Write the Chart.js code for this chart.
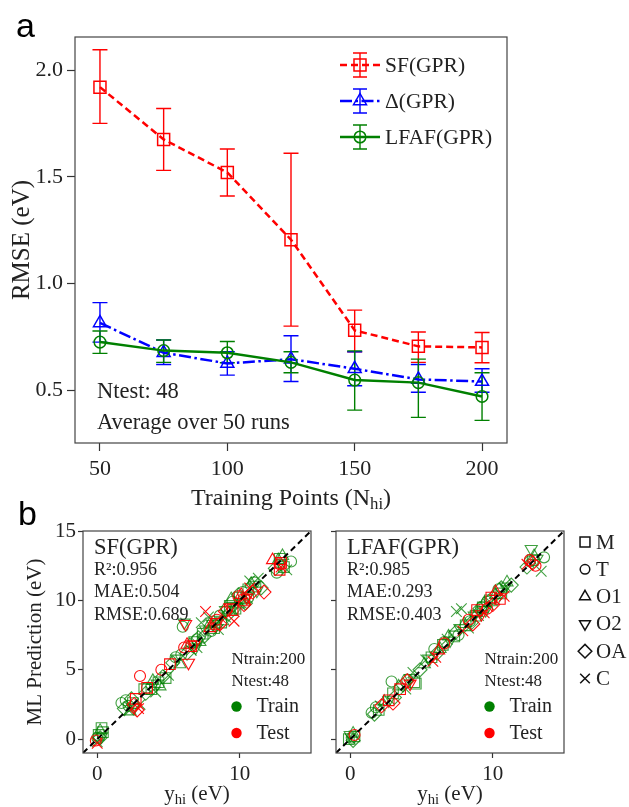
<!DOCTYPE html>
<html>
<head>
<meta charset="utf-8">
<script src="https://cdn.jsdelivr.net/npm/chart.js@4.4.1/dist/chart.umd.min.js"></script>
<style>
  body { margin: 0; background: #fff; }
  #wrap { position: relative; width: 629px; height: 807px; overflow: hidden; background: #fff; }
  canvas { position: absolute; }
  .panel { position: absolute; font-family: "Liberation Sans", Arial, sans-serif; font-size: 34px; line-height: 1; color: #000; }
</style>
</head>
<body>
<div id="wrap">
  <canvas id="rmseChart" width="629" height="515" style="left:0px;top:0px"></canvas>
  <canvas id="sfChart" width="320" height="302" style="left:0px;top:505px"></canvas>
  <canvas id="lfafChart" width="376" height="302" style="left:253px;top:505px"></canvas>
  <div class="panel" style="left:16px;top:8px">a</div>
  <div class="panel" style="left:18px;top:496px">b</div>
</div>
<script>
// ---- panel a : RMSE vs number of high fidelity training points
const nhi = [50, 75, 100, 125, 150, 175, 200];
const sfRmse = [1.92, 1.675, 1.52, 1.205, 0.78, 0.705, 0.70];
const sfHigh = [2.095, 1.82, 1.63, 1.61, 0.875, 0.772, 0.77];
const sfLow = [1.75, 1.53, 1.41, 0.80, 0.68, 0.63, 0.628];
const deltaRmse = [0.815, 0.675, 0.625, 0.645, 0.60, 0.55, 0.54];
const deltaHigh = [0.91, 0.735, 0.68, 0.755, 0.68, 0.62, 0.60];
const deltaLow = [0.725, 0.62, 0.57, 0.54, 0.52, 0.49, 0.49];
const lfafRmse = [0.725, 0.685, 0.675, 0.63, 0.547, 0.535, 0.47];
const lfafHigh = [0.777, 0.735, 0.728, 0.68, 0.684, 0.645, 0.581];
const lfafLow = [0.672, 0.63, 0.628, 0.581, 0.406, 0.372, 0.358];
const xTicksA = [50, 100, 150, 200];
const yTicksA = [0.5, 1.0, 1.5, 2.0];

// ---- panel b : parity plots (y_hi, prediction)
const sfTrainM = [[0.1,0.3],[0.3,0.8],[0.4,0.5],[2.5,2.6],[3.3,3.6],[3.8,3.6],[4.3,4.1],[4.8,4.4],[6.8,7.0],[7.4,7.6],[8.2,8.0],[8.7,8.4],[9.3,9.6],[9.7,9.4],[10.0,10.2],[10.6,10.8],[11.1,11.0],[12.8,13.0],[13.1,12.4]];
const sfTrainT = [[0.0,0.1],[1.7,2.6],[2.0,2.8],[2.2,2.4],[3.5,3.7],[5.5,5.9],[5.9,6.1],[6.0,8.1],[7.0,7.2],[8.0,7.8],[8.6,8.9],[9.1,9.4],[9.5,9.9],[10.2,10.6],[10.6,10.2],[11.0,11.3],[13.6,12.8],[12.6,12.0]];
const sfTrainO1 = [[0.2,0.6],[2.3,2.0],[3.9,4.2],[4.4,3.8],[5.8,5.4],[6.5,6.8],[7.2,7.0],[7.9,8.3],[8.8,8.5],[9.4,10.1],[9.9,9.7],[10.3,10.0],[10.8,11.2],[12.7,12.9],[13.0,13.2]];
const sfTrainO2 = [[0.3,0.2],[2.6,2.3],[4.2,4.0],[5.6,5.8],[6.1,8.4],[6.9,6.6],[7.6,7.9],[8.1,8.3],[8.4,8.6],[9.0,9.3],[9.8,9.5],[10.5,10.3],[11.2,10.7],[12.9,12.6]];
const sfTrainOA = [[0.2,0.1],[1.9,2.2],[2.4,2.9],[3.4,3.3],[4.6,4.5],[5.3,5.5],[6.3,6.2],[7.1,7.3],[7.5,7.4],[8.3,8.2],[9.2,9.0],[9.9,10.4],[10.4,9.8],[11.5,10.9],[12.5,12.3]];
const sfTrainC = [[0.0,-0.2],[2.2,2.1],[3.0,2.5],[4.1,3.4],[5.0,4.6],[6.6,6.4],[7.0,6.6],[7.3,8.4],[7.8,8.8],[8.5,7.9],[9.0,8.8],[9.6,9.2],[10.1,9.8],[10.7,11.4],[11.3,11.6],[13.3,12.2]];
const sfTestM = [[2.7,2.9],[3.5,3.7],[5.1,5.4],[6.6,6.7],[8.3,8.3],[9.5,9.3],[10.3,10.0],[12.8,12.2],[12.9,12.7]];
const sfTestT = [[-0.1,-0.1],[3.0,4.55],[4.5,5.0],[6.1,6.6],[8.4,8.6],[9.9,10.3],[12.8,12.6]];
const sfTestO1 = [[6.3,6.8],[7.9,8.0],[10.1,10.4],[12.3,12.9]];
const sfTestO2 = [[6.2,8.3],[6.4,5.5],[6.8,6.8],[9.3,9.5],[10.5,10.2]];
const sfTestOA = [[2.6,2.5],[2.8,2.1],[9.0,9.2],[10.3,9.7],[10.9,10.6],[11.7,10.6],[8.6,8.3]];
const sfTestC = [[0.0,-0.3],[2.9,2.2],[7.6,9.2],[9.6,8.5],[10.7,10.9],[12.9,12.4]];

const lfafTrainM = [[-0.1,0.0],[0.3,0.2],[2.0,2.1],[3.0,3.3],[4.5,4.1],[4.6,4.0],[5.7,5.9],[6.5,6.8],[7.3,7.4],[8.1,8.2],[8.8,8.9],[9.3,9.5],[9.8,10.0],[10.6,10.5],[12.8,12.9]];
const lfafTrainT = [[0.1,0.1],[1.5,1.9],[1.8,2.3],[2.9,4.15],[4.0,4.3],[5.9,6.5],[6.6,7.0],[7.6,7.5],[8.4,8.5],[9.2,9.5],[9.6,9.9],[10.4,10.8],[12.6,12.8],[13.6,13.1]];
const lfafTrainO1 = [[0.2,0.4],[2.4,2.7],[3.4,3.8],[5.2,5.4],[6.3,6.5],[6.9,7.4],[8.0,8.3],[8.9,9.1],[9.4,9.8],[10.2,10.4],[11.0,11.3],[12.9,13.2]];
const lfafTrainO2 = [[0.0,0.3],[2.7,2.8],[4.2,4.4],[5.5,5.8],[7.0,7.1],[7.7,8.0],[8.7,8.9],[9.5,9.3],[10.3,10.1],[10.9,11.0],[12.7,13.7],[13.1,13.0]];
const lfafTrainOA = [[0.2,-0.1],[1.7,1.8],[3.1,3.0],[3.7,3.9],[4.9,5.0],[6.1,6.2],[7.4,7.7],[8.5,8.4],[9.1,9.4],[10.0,10.2],[10.6,10.9],[11.3,11.1],[12.4,12.4]];
const lfafTrainC = [[0.0,0.0],[2.1,2.4],[3.9,3.6],[4.4,4.8],[5.3,5.7],[6.8,7.2],[7.45,9.2],[7.8,9.4],[8.3,8.0],[9.0,8.9],[9.7,9.7],[10.8,10.9],[13.4,12.1]];
const lfafTestM = [[2.7,2.8],[3.5,3.6],[8.9,9.3],[9.9,10.2],[10.5,10.1]];
const lfafTestT = [[0.3,0.3],[6.6,6.9],[8.3,8.6],[9.6,9.4],[12.6,12.9],[13.0,12.5]];
const lfafTestO1 = [[6.2,6.4],[10.2,10.6]];
const lfafTestO2 = [[4.2,4.0],[9.2,9.0]];
const lfafTestOA = [[2.2,2.4],[3.0,2.6],[4.0,4.2],[8.6,8.3],[10.0,9.7],[12.8,12.7]];
const lfafTestC = [[5.8,5.6],[6.0,5.9],[7.9,7.8],[9.4,9.1],[10.8,10.3],[12.4,12.6]];

const diagX = [-1, 15];
const diagY = [-1, 15];
const xTicksB = [0, 10];
const yTicksB = [0, 5, 10, 15];
const sfStats = ['0.956', '0.504', '0.689'];
const lfafStats = ['0.985', '0.293', '0.403'];
const nTrain = 200;
const nTest = 48;
const shapeKeys = ['M', 'T', 'O1', 'O2', 'OA', 'C'];

const SERIF = "'Liberation Serif', 'Times New Roman', serif";
Chart.defaults.font.family = SERIF;
Chart.defaults.color = '#222';
Chart.defaults.animation = false;

const shapeStyle = {
  M:  { pointStyle: 'rect', radius: 7.5, rotation: 0 },
  T:  { pointStyle: 'circle', radius: 5.5, rotation: 0 },
  O1: { pointStyle: 'triangle', radius: 7, rotation: 0 },
  O2: { pointStyle: 'triangle', radius: 7, rotation: 180 },
  OA: { pointStyle: 'rectRot', radius: 7, rotation: 0 },
  C:  { pointStyle: 'crossRot', radius: 7.5, rotation: 0 }
};

// draw the plot frame on all four sides like matplotlib spines
const frame = {
  id: 'frame',
  afterDatasetsDraw(chart) {
    const { ctx, chartArea: a } = chart;
    ctx.save();
    ctx.strokeStyle = '#444';
    ctx.lineWidth = 1.2;
    ctx.strokeRect(a.left, a.top, a.right - a.left, a.bottom - a.top);
    ctx.restore();
  }
};

// text with a subscript part, centred on cx
function drawSubText(ctx, parts, cx, cy, size) {
  ctx.save();
  ctx.fillStyle = '#222';
  ctx.textBaseline = 'alphabetic';
  let w = 0;
  parts.forEach(p => {
    ctx.font = (p.sub ? size * 0.7 : size) + 'px ' + SERIF;
    w += ctx.measureText(p.t).width;
  });
  let x = cx - w / 2;
  const base = cy + size * 0.33;
  parts.forEach(p => {
    ctx.font = (p.sub ? size * 0.7 : size) + 'px ' + SERIF;
    ctx.fillText(p.t, x, p.sub ? base + size * 0.18 : base);
    x += ctx.measureText(p.t).width;
  });
  ctx.restore();
}

const errorBars = {
  id: 'errorBars',
  beforeDatasetsDraw(chart) {
    const { ctx, scales: { x, y } } = chart;
    chart.data.datasets.forEach(ds => {
      ctx.save();
      ctx.strokeStyle = ds.borderColor;
      ctx.lineWidth = 1.4;
      ds.data.forEach((p, i) => {
        const px = x.getPixelForValue(p.x);
        const top = y.getPixelForValue(ds.errHigh[i]);
        const bot = y.getPixelForValue(ds.errLow[i]);
        ctx.beginPath();
        ctx.moveTo(px, top); ctx.lineTo(px, bot);
        ctx.moveTo(px - 7.5, top); ctx.lineTo(px + 7.5, top);
        ctx.moveTo(px - 7.5, bot); ctx.lineTo(px + 7.5, bot);
        ctx.stroke();
      });
      ctx.restore();
    });
  }
};

function drawMarker(ctx, style, x, y, r) {
  ctx.beginPath();
  if (style === 'rect') {
    const h = r * Math.SQRT1_2;
    ctx.rect(x - h, y - h, 2 * h, 2 * h);
  } else if (style === 'circle') {
    ctx.arc(x, y, r, 0, Math.PI * 2);
  } else if (style === 'triangle') {
    ctx.moveTo(x, y - r);
    ctx.lineTo(x + r * 0.866, y + r * 0.5);
    ctx.lineTo(x - r * 0.866, y + r * 0.5);
    ctx.closePath();
  } else if (style === 'triangleDown') {
    ctx.moveTo(x, y + r);
    ctx.lineTo(x + r * 0.866, y - r * 0.5);
    ctx.lineTo(x - r * 0.866, y - r * 0.5);
    ctx.closePath();
  } else if (style === 'rectRot') {
    ctx.moveTo(x, y - r); ctx.lineTo(x + r, y); ctx.lineTo(x, y + r); ctx.lineTo(x - r, y);
    ctx.closePath();
  } else if (style === 'crossRot') {
    const h = r * Math.SQRT1_2;
    ctx.moveTo(x - h, y - h); ctx.lineTo(x + h, y + h);
    ctx.moveTo(x + h, y - h); ctx.lineTo(x - h, y + h);
  }
  ctx.stroke();
}

const rmseLegend = {
  id: 'rmseLegend',
  afterDraw(chart) {
    const { ctx } = chart;
    const rows = [65, 101, 137];
    chart.data.datasets.forEach((ds, i) => {
      const y = rows[i];
      ctx.save();
      ctx.strokeStyle = ds.borderColor;
      ctx.lineWidth = 2.5;
      ctx.setLineDash(ds.borderDash || []);
      ctx.beginPath(); ctx.moveTo(340, y); ctx.lineTo(380, y); ctx.stroke();
      ctx.setLineDash([]);
      ctx.lineWidth = 1.4;
      ctx.beginPath();
      ctx.moveTo(360, y - 12); ctx.lineTo(360, y + 12);
      ctx.moveTo(353, y - 12); ctx.lineTo(367, y - 12);
      ctx.moveTo(353, y + 12); ctx.lineTo(367, y + 12);
      ctx.stroke();
      ctx.lineWidth = 1.5;
      drawMarker(ctx, ds.pointStyle, 360, y, ds.pointRadius);
      ctx.fillStyle = '#222';
      ctx.font = '21.5px ' + SERIF;
      ctx.textBaseline = 'middle';
      ctx.fillText(ds.label, 385, y + 1);
      ctx.restore();
    });
    ctx.save();
    ctx.fillStyle = '#222';
    ctx.font = '22.5px ' + SERIF;
    ctx.textBaseline = 'middle';
    ctx.fillText('Ntest: ' + nTest, 97, 392);
    ctx.fillText('Average over 50 runs', 97, 423);
    ctx.restore();
    drawSubText(ctx, [{ t: 'Training Points (N' }, { t: 'hi', sub: true }, { t: ')' }], 291, 497, 24);
  }
};

function rmseSeries(label, color, dash, style, radius, ys, lo, hi, order) {
  return {
    label, order,
    data: nhi.map((x, i) => ({ x, y: ys[i] })),
    errLow: lo, errHigh: hi,
    borderColor: color, borderWidth: 2.5, borderDash: dash,
    pointStyle: style, pointRadius: radius, pointBorderWidth: 1.5,
    pointBorderColor: color, pointBackgroundColor: 'rgba(0,0,0,0)',
    backgroundColor: 'rgba(0,0,0,0)', tension: 0, fill: false
  };
}

new Chart(document.getElementById('rmseChart').getContext('2d'), {
  type: 'line',
  data: {
    datasets: [
      rmseSeries('SF(GPR)', '#ff0000', [7, 4], 'rect', 8.5, sfRmse, sfLow, sfHigh, 3),
      rmseSeries('\u0394(GPR)', '#0000ff', [12, 3.5, 2.5, 3.5], 'triangle', 7.5, deltaRmse, deltaLow, deltaHigh, 2),
      rmseSeries('LFAF(GPR)', '#008000', [], 'circle', 5.8, lfafRmse, lfafLow, lfafHigh, 1)
    ]
  },
  options: {
    responsive: false,
    layout: { padding: { top: 37, right: 122, left: 0, bottom: 0 } },
    plugins: { legend: { display: false }, tooltip: { enabled: false } },
    scales: {
      x: {
        type: 'linear', min: 40.2, max: 209.8,
        afterBuildTicks: s => { s.ticks = xTicksA.map(v => ({ value: v })); },
        afterFit: s => { s.height = 72; },
        grid: { drawOnChartArea: false, tickLength: 8, tickColor: '#333', tickWidth: 1.2 },
        border: { display: false },
        ticks: { font: { size: 22 }, padding: 5, maxRotation: 0, autoSkip: false }
      },
      y: {
        type: 'linear', min: 0.252, max: 2.155,
        afterBuildTicks: s => { s.ticks = yTicksA.map(v => ({ value: v })); },
        afterFit: s => { s.width = 75; },
        grid: { drawOnChartArea: false, tickLength: 8, tickColor: '#333', tickWidth: 1.2 },
        border: { display: false },
        ticks: { font: { size: 22 }, padding: 4, autoSkip: false, callback: v => v.toFixed(1) },
        title: { display: true, text: 'RMSE (eV)', font: { size: 25 }, color: '#222', padding: { top: 7, bottom: 0 } }
      }
    }
  },
  plugins: [errorBars, frame, rmseLegend]
});

// ---- parity panels
function markerSet(list, key, color, order) {
  const s = shapeStyle[key];
  return {
    order,
    data: list.map(p => ({ x: p[0], y: p[1] })),
    pointStyle: s.pointStyle, pointRadius: s.radius, pointRotation: s.rotation,
    pointBorderColor: color, pointBackgroundColor: 'rgba(0,0,0,0)', pointBorderWidth: 1.1,
    showLine: false
  };
}

function parityDatasets(trainLists, testLists) {
  const sets = [];
  shapeKeys.forEach((k, i) => sets.push(markerSet(trainLists[i], k, 'rgba(0,128,0,0.75)', 2)));
  shapeKeys.forEach((k, i) => sets.push(markerSet(testLists[i], k, 'rgba(255,0,0,0.95)', 1)));
  sets.push({
    order: 0,
    data: diagX.map((v, i) => ({ x: v, y: diagY[i] })),
    showLine: true, borderColor: '#000', borderWidth: 2, borderDash: [6, 4], pointRadius: 0
  });
  return sets;
}

function statsPlugin(title, stats) {
  return {
    id: 'stats',
    afterDraw(chart) {
      const { ctx, chartArea: a } = chart;
      ctx.save();
      ctx.fillStyle = '#222';
      ctx.textBaseline = 'middle';
      ctx.font = '22.5px ' + SERIF;
      ctx.fillText(title, a.left + 11, a.top + 17);
      ctx.font = '18px ' + SERIF;
      ctx.fillText('R\u00b2:' + stats[0], a.left + 11, a.top + 39);
      ctx.fillText('MAE:' + stats[1], a.left + 11, a.top + 61);
      ctx.fillText('RMSE:' + stats[2], a.left + 11, a.top + 84);
      ctx.font = '17px ' + SERIF;
      ctx.fillText('Ntrain:' + nTrain, a.left + 148.5, a.top + 129);
      ctx.fillText('Ntest:' + nTest, a.left + 148.5, a.top + 151);
      ctx.font = '20px ' + SERIF;
      ctx.fillText('Train', a.left + 173.5, a.top + 176);
      ctx.fillText('Test', a.left + 173.5, a.top + 202.5);
      ctx.fillStyle = '#008000';
      ctx.beginPath(); ctx.arc(a.left + 153.5, a.top + 175.5, 5.2, 0, Math.PI * 2); ctx.fill();
      ctx.fillStyle = '#ff0000';
      ctx.beginPath(); ctx.arc(a.left + 153.5, a.top + 202, 5.2, 0, Math.PI * 2); ctx.fill();
      ctx.restore();
      drawSubText(ctx, [{ t: 'y' }, { t: 'hi', sub: true }, { t: ' (eV)' }], (a.left + a.right) / 2, 288, 21);
    }
  };
}

const shapeLegend = {
  id: 'shapeLegend',
  afterDraw(chart) {
    const { ctx } = chart;
    const styles = ['rect', 'circle', 'triangle', 'triangleDown', 'rectRot', 'crossRot'];
    const radii = [7, 4.8, 6.3, 6.3, 6.8, 6.8];
    ctx.save();
    ctx.strokeStyle = '#111';
    ctx.lineWidth = 1.5;
    ctx.fillStyle = '#222';
    ctx.font = '21px ' + SERIF;
    ctx.textBaseline = 'middle';
    shapeKeys.forEach((k, i) => {
      const y = 37 + i * 27.3;
      drawMarker(ctx, styles[i], 332, y, radii[i]);
      ctx.fillText(k, 343, y + 1);
    });
    ctx.restore();
  }
};

function parityScales(showYLabels, yTitle) {
  return {
    x: {
      type: 'linear', min: -1, max: 15,
      afterBuildTicks: s => { s.ticks = xTicksB.map(v => ({ value: v })); },
      afterFit: s => { s.height = 54; },
      grid: { drawOnChartArea: false, tickLength: 5, tickColor: '#333', tickWidth: 1.2 },
      border: { display: false },
      ticks: { font: { size: 21 }, padding: 4, maxRotation: 0, autoSkip: false }
    },
    y: {
      type: 'linear', min: -1, max: 15,
      afterBuildTicks: s => { s.ticks = yTicksB.map(v => ({ value: v })); },
      afterFit: s => { s.width = 83; },
      grid: { drawOnChartArea: false, tickLength: 5, tickColor: '#333', tickWidth: 1.2 },
      border: { display: false },
      ticks: { font: { size: 21 }, padding: 2, autoSkip: false, callback: v => showYLabels ? v : '' },
      title: { display: !!yTitle, text: yTitle || '', font: { size: 21 }, color: '#222', padding: { top: 23, bottom: 0 } }
    }
  };
}

new Chart(document.getElementById('sfChart').getContext('2d'), {
  type: 'scatter',
  data: {
    datasets: parityDatasets(
      [sfTrainM, sfTrainT, sfTrainO1, sfTrainO2, sfTrainOA, sfTrainC],
      [sfTestM, sfTestT, sfTestO1, sfTestO2, sfTestOA, sfTestC])
  },
  options: {
    responsive: false,
    layout: { padding: { top: 26, right: 9, left: 0, bottom: 0 } },
    plugins: { legend: { display: false }, tooltip: { enabled: false } },
    scales: parityScales(true, 'ML Prediction (eV)')
  },
  plugins: [frame, statsPlugin('SF(GPR)', sfStats)]
});

new Chart(document.getElementById('lfafChart').getContext('2d'), {
  type: 'scatter',
  data: {
    datasets: parityDatasets(
      [lfafTrainM, lfafTrainT, lfafTrainO1, lfafTrainO2, lfafTrainOA, lfafTrainC],
      [lfafTestM, lfafTestT, lfafTestO1, lfafTestO2, lfafTestOA, lfafTestC])
  },
  options: {
    responsive: false,
    layout: { padding: { top: 26, right: 65, left: 0, bottom: 0 } },
    plugins: { legend: { display: false }, tooltip: { enabled: false } },
    scales: parityScales(false, '')
  },
  plugins: [frame, statsPlugin('LFAF(GPR)', lfafStats), shapeLegend]
});
</script>
</body>
</html>
